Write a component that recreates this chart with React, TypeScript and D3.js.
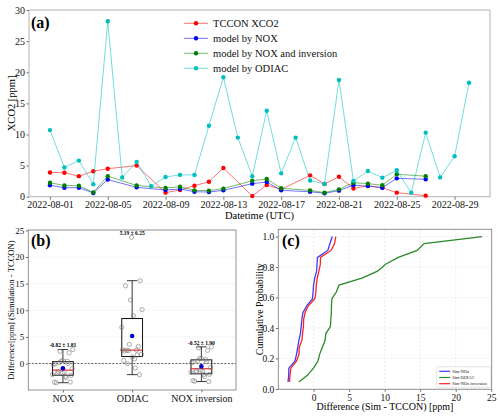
import { useEffect, useRef } from 'react';
import * as d3 from 'd3';

const dates = [
  '2022-08-01', '2022-08-02', '2022-08-03', '2022-08-04', '2022-08-05', '2022-08-06',
  '2022-08-07', '2022-08-08', '2022-08-09', '2022-08-10', '2022-08-11', '2022-08-12',
  '2022-08-13', '2022-08-14', '2022-08-15', '2022-08-16', '2022-08-17', '2022-08-18',
  '2022-08-19', '2022-08-20', '2022-08-21', '2022-08-22', '2022-08-23', '2022-08-24',
  '2022-08-25', '2022-08-26', '2022-08-27', '2022-08-28', '2022-08-29', '2022-08-30',
];
const tcconXco2 = [3.9, 3.85, 3.3, 4.08, 4.5, null, 5.0, null, 0.65, 1.08, 1.77, 2.4, 4.62, null, 0.1, 1.88, 1.18, null, 3.43, 2.05, 3.2, 1.3, 1.77, 1.45, 0.65, null, 0.17, null, null, null];
const modelNox = [1.83, 1.45, 1.45, 0.6, 2.75, null, 1.5, null, 1.08, 1.24, 0.8, 0.75, 1.02, null, 2.1, 2.36, 1.02, null, 0.8, 0.55, 0.97, 1.85, 1.7, 1.45, 2.95, null, 2.8, null, null, null];
const modelNoxInversion = [2.25, 1.8, 1.75, 0.7, 3.3, null, 1.8, null, 1.4, 1.6, 1.02, 0.97, 1.3, null, 2.57, 2.85, 1.35, null, 1.02, 0.65, 1.18, 2.25, 2.1, 1.83, 3.6, null, 3.3, null, null, null];
const modelOdiac = [10.7, 4.7, 5.8, 2.0, 28.2, 3.1, 5.6, 1.7, 3.17, 3.5, 3.5, 11.4, 19.2, 9.5, 3.3, 13.8, 3.75, 9.5, 2.6, 2.04, 18.75, 2.52, 4.13, 3.06, 4.24, 0.65, 10.3, 3.1, 6.5, 18.3];

const seriesNames = ['TCCON XCO2', 'model by NOX', 'model by NOX and inversion', 'model by ODIAC'];
const seriesColors = ['#ff0000', '#0000ff', '#008000', '#00bfbf'];
const yTicksA = [0, 5, 10, 15, 20, 25, 30];

// panel (b)
const boxCategories = ['NOX', 'ODIAC', 'NOX inversion'];
const boxStatLabels = ['-0.82 ± 1.81', '5.19 ± 6.25', '-0.52 ± 1.90'];
const yTicksB = [0, 5, 10, 15, 20, 25];

// panel (c)
const cdfNames = ['Sim-NOx', 'Sim-ODIAC', 'Sim-NOx inversion'];
const cdfColors = ['#3c3cff', '#2a8a2a', '#ff2020'];
const xTicksC = [0, 5, 10, 15, 20, 25];
const yTicksC = [0, 0.2, 0.4, 0.6, 0.8, 1.0];

const FONT = '"Liberation Serif", "Times New Roman", serif';

function differences(model: (number | null)[]) {
  const out: number[] = [];
  dates.forEach((_, i) => {
    const obs = tcconXco2[i];
    const sim = model[i];
    if (obs != null && sim != null) out.push(sim - obs);
  });
  return out;
}

function padded(lo: number, hi: number) {
  const m = (hi - lo) * 0.05;
  return [lo - m, hi + m];
}

export default function App() {
  const svgRef = useRef<SVGSVGElement>(null);

  useEffect(() => {
    if (!svgRef.current) return;
    const svg = d3.select(svgRef.current);
    svg.selectAll('*').remove();
    svg.append('rect').attr('width', 500).attr('height', 417).attr('fill', 'white');

    // ---------- (a) time series ----------
    const pa = { left: 29, right: 490, top: 10, bottom: 196.7 };
    const parse = d3.utcParse('%Y-%m-%d');
    const times = dates.map(d => parse(d) as Date);
    const span = +times[times.length - 1] - +times[0];
    const xA = d3.scaleUtc()
      .domain([new Date(+times[0] - span * 0.05), new Date(+times[times.length - 1] + span * 0.05)])
      .range([pa.left, pa.right]);
    const yA = d3.scaleLinear().domain([0, 30]).range([pa.bottom, pa.top]);

    const gA = svg.append('g');
    const xAxisA = gA.append('g')
      .attr('transform', `translate(0,${pa.bottom})`)
      .call(d3.axisBottom(xA).ticks(d3.utcDay.every(4)).tickFormat(d3.utcFormat('%Y-%m-%d') as any).tickSize(3).tickPadding(1.5));
    const yAxisA = gA.append('g')
      .attr('transform', `translate(${pa.left},0)`)
      .call(d3.axisLeft(yA).tickValues(yTicksA).tickSize(2.5).tickPadding(1.5));
    [xAxisA, yAxisA].forEach(ax => {
      ax.select('.domain').remove();
      ax.selectAll('text').style('font-family', FONT).style('font-size', '10px').attr('fill', '#111');
      ax.selectAll('line').attr('stroke', '#333').attr('stroke-width', 0.7);
    });
    gA.append('rect')
      .attr('x', pa.left).attr('y', pa.top)
      .attr('width', pa.right - pa.left).attr('height', pa.bottom - pa.top)
      .attr('fill', 'none').attr('stroke', '#aaaaaa').attr('stroke-width', 0.9);

    const allSeries = [tcconXco2, modelNox, modelNoxInversion, modelOdiac];
    allSeries.forEach((vals, s) => {
      const pts = vals
        .map((v, i) => ({ t: times[i], v }))
        .filter(p => p.v != null) as { t: Date; v: number }[];
      const line = d3.line<{ t: Date; v: number }>().x(p => xA(p.t)).y(p => yA(p.v));
      gA.append('path')
        .attr('d', line(pts))
        .attr('fill', 'none')
        .attr('stroke', seriesColors[s])
        .attr('stroke-opacity', 0.55)
        .attr('stroke-width', 1);
      gA.selectAll(null)
        .data(pts)
        .enter().append('circle')
        .attr('cx', p => xA(p.t))
        .attr('cy', p => yA(p.v))
        .attr('r', 2.2)
        .attr('fill', seriesColors[s]);
    });

    // legend
    const legA = gA.append('g').attr('transform', 'translate(184,23.3)');
    seriesNames.forEach((name, s) => {
      const row = legA.append('g').attr('transform', `translate(0,${s * 15})`);
      row.append('line').attr('x1', 0).attr('x2', 24)
        .attr('stroke', seriesColors[s]).attr('stroke-opacity', 0.55).attr('stroke-width', 1);
      row.append('circle').attr('cx', 12).attr('r', 2.2).attr('fill', seriesColors[s]);
      row.append('text').attr('x', 29).attr('y', 3.6)
        .style('font-family', FONT).style('font-size', '10.5px').attr('fill', '#111').text(name);
    });

    gA.append('text').attr('x', 31).attr('y', 27.5)
      .style('font-family', FONT).style('font-size', '16px').style('font-weight', 'bold').text('(a)');
    gA.append('text').attr('x', (pa.left + pa.right) / 2).attr('y', 219).attr('text-anchor', 'middle')
      .style('font-family', FONT).style('font-size', '10.5px').text('Datetime (UTC)');
    gA.append('text').attr('transform', `translate(14.5,${(pa.top + pa.bottom) / 2}) rotate(-90)`)
      .attr('text-anchor', 'middle')
      .style('font-family', FONT).style('font-size', '10.5px').text('XCO2 [ppm]');

    // ---------- (b) box plots ----------
    const diffSets = [differences(modelNox), differences(modelOdiac), differences(modelNoxInversion)];
    const allDiffs = diffSets.flat();
    const [dLo, dHi] = padded(d3.min(allDiffs) as number, d3.max(allDiffs) as number);

    const pb = { left: 28.3, right: 236, top: 230, bottom: 390 };
    const xB = d3.scaleLinear().domain([0.5, 3.5]).range([pb.left, pb.right]);
    const yB = d3.scaleLinear().domain([dLo, dHi]).range([pb.bottom, pb.top]);
    const gB = svg.append('g');

    // grid
    gB.selectAll(null).data(yTicksB.filter(v => v >= dLo && v <= dHi)).enter().append('line')
      .attr('x1', pb.left).attr('x2', pb.right)
      .attr('y1', d => yB(d)).attr('y2', d => yB(d))
      .attr('stroke', '#dddddd').attr('stroke-width', 0.6).attr('stroke-dasharray', '2,2');
    gB.append('line')
      .attr('x1', pb.left).attr('x2', pb.right).attr('y1', yB(0)).attr('y2', yB(0))
      .attr('stroke', '#222').attr('stroke-width', 0.7).attr('stroke-dasharray', '2,1.5');

    const yAxisB = gB.append('g').attr('transform', `translate(${pb.left},0)`)
      .call(d3.axisLeft(yB).tickValues(yTicksB.filter(v => v >= dLo && v <= dHi)).tickSize(2.5).tickPadding(1.5));
    const xAxisB = gB.append('g').attr('transform', `translate(0,${pb.bottom})`)
      .call(d3.axisBottom(xB).tickValues([1, 2, 3]).tickFormat((d: any) => boxCategories[d - 1]).tickSize(2.5).tickPadding(2));
    [xAxisB, yAxisB].forEach(ax => {
      ax.select('.domain').remove();
      ax.selectAll('line').attr('stroke', '#333').attr('stroke-width', 0.7);
      ax.selectAll('text').style('font-family', FONT).attr('fill', '#111');
    });
    yAxisB.selectAll('text').style('font-size', '9px');
    xAxisB.selectAll('text').style('font-size', '10px');

    const boxW = 0.3;
    diffSets.forEach((vals, k) => {
      const pos = k + 1;
      const sorted = vals.slice().sort(d3.ascending);
      const q1 = d3.quantile(sorted, 0.25) as number;
      const med = d3.quantile(sorted, 0.5) as number;
      const q3 = d3.quantile(sorted, 0.75) as number;
      const iqr = q3 - q1;
      const wLo = d3.min(sorted.filter(v => v >= q1 - 1.5 * iqr)) as number;
      const wHi = d3.max(sorted.filter(v => v <= q3 + 1.5 * iqr)) as number;
      const mean = d3.mean(vals) as number;

      const g = gB.append('g');
      g.append('line').attr('x1', xB(pos)).attr('x2', xB(pos)).attr('y1', yB(q3)).attr('y2', yB(wHi))
        .attr('stroke', '#222').attr('stroke-width', 0.9);
      g.append('line').attr('x1', xB(pos)).attr('x2', xB(pos)).attr('y1', yB(q1)).attr('y2', yB(wLo))
        .attr('stroke', '#222').attr('stroke-width', 0.9);
      [wLo, wHi].forEach(w => {
        g.append('line').attr('x1', xB(pos - boxW / 4)).attr('x2', xB(pos + boxW / 4))
          .attr('y1', yB(w)).attr('y2', yB(w)).attr('stroke', '#222').attr('stroke-width', 0.9);
      });
      g.append('rect')
        .attr('x', xB(pos - boxW / 2)).attr('y', yB(q3))
        .attr('width', xB(pos + boxW / 2) - xB(pos - boxW / 2)).attr('height', yB(q1) - yB(q3))
        .attr('fill', 'none').attr('stroke', '#111').attr('stroke-width', 1);
      g.append('line').attr('x1', xB(pos - boxW / 2)).attr('x2', xB(pos + boxW / 2))
        .attr('y1', yB(med)).attr('y2', yB(med)).attr('stroke', '#e8302a').attr('stroke-width', 1.2);

      // jittered points (deterministic spread)
      g.selectAll(null).data(vals).enter().append('circle')
        .attr('cx', (_, i) => xB(pos + (((i * 0.618034) % 1) - 0.5) * 0.3))
        .attr('cy', d => yB(d))
        .attr('r', 2.1)
        .attr('fill', 'none').attr('stroke', '#777').attr('stroke-width', 0.6);

      g.append('circle').attr('cx', xB(pos)).attr('cy', yB(mean)).attr('r', 2.3).attr('fill', '#0000cc');

      g.append('text').attr('x', xB(pos)).attr('y', yB(d3.max(vals) as number) - 2.2)
        .attr('text-anchor', 'middle')
        .style('font-family', FONT).style('font-size', '5.5px').style('font-weight', 'bold')
        .text(boxStatLabels[k]);
    });

    gB.append('rect')
      .attr('x', pb.left).attr('y', pb.top)
      .attr('width', pb.right - pb.left).attr('height', pb.bottom - pb.top)
      .attr('fill', 'none').attr('stroke', '#888').attr('stroke-width', 0.9);
    gB.append('text').attr('x', 31).attr('y', 246)
      .style('font-family', FONT).style('font-size', '16px').style('font-weight', 'bold').text('(b)');
    gB.append('text').attr('transform', `translate(14,${(pb.top + pb.bottom) / 2}) rotate(-90)`)
      .attr('text-anchor', 'middle')
      .style('font-family', FONT).style('font-size', '8.6px').text('Difference[ppm] (Simulation - TCCON)');

    // ---------- (c) cumulative distributions ----------
    const pc = { left: 278.3, right: 491.7, top: 229.3, bottom: 389.3 };
    const n = diffSets[0].length;
    const xC = d3.scaleLinear().domain([dLo, dHi]).range([pc.left, pc.right]);
    const yC = d3.scaleLinear().domain(padded(1 / n, 1)).range([pc.bottom, pc.top]);
    const gC = svg.append('g');

    gC.selectAll(null).data(xTicksC).enter().append('line')
      .attr('x1', d => xC(d)).attr('x2', d => xC(d)).attr('y1', pc.top).attr('y2', pc.bottom)
      .attr('stroke', '#d4d4d4').attr('stroke-width', 0.5).attr('stroke-dasharray', '2,2');
    gC.selectAll(null).data(yTicksC).enter().append('line')
      .attr('x1', pc.left).attr('x2', pc.right).attr('y1', d => yC(d)).attr('y2', d => yC(d))
      .attr('stroke', '#d4d4d4').attr('stroke-width', 0.5).attr('stroke-dasharray', '2,2');

    const xAxisC = gC.append('g').attr('transform', `translate(0,${pc.bottom})`)
      .call(d3.axisBottom(xC).tickValues(xTicksC).tickSize(2.5).tickPadding(2));
    const yAxisC = gC.append('g').attr('transform', `translate(${pc.left},0)`)
      .call(d3.axisLeft(yC).tickValues(yTicksC).tickFormat(d3.format('.1f') as any).tickSize(2.5).tickPadding(1.5));
    [xAxisC, yAxisC].forEach(ax => {
      ax.select('.domain').remove();
      ax.selectAll('line').attr('stroke', '#333').attr('stroke-width', 0.7);
      ax.selectAll('text').style('font-family', FONT).style('font-size', '9.5px').attr('fill', '#111');
    });

    diffSets.forEach((vals, k) => {
      const sorted = vals.slice().sort(d3.ascending);
      const line = d3.line<number>().x(d => xC(d)).y((_, i) => yC((i + 1) / sorted.length));
      gC.append('path').attr('d', line(sorted))
        .attr('fill', 'none').attr('stroke', cdfColors[k]).attr('stroke-width', 1.3);
    });

    const legC = gC.append('g').attr('transform', 'translate(436.7,366.7)');
    legC.append('rect').attr('width', 54).attr('height', 20.6).attr('rx', 1.5)
      .attr('fill', 'white').attr('fill-opacity', 0.85).attr('stroke', '#cccccc').attr('stroke-width', 0.5);
    cdfNames.forEach((name, k) => {
      const yy = 4.6 + k * 6.2;
      legC.append('line').attr('x1', 2.5).attr('x2', 13.5).attr('y1', yy).attr('y2', yy)
        .attr('stroke', cdfColors[k]).attr('stroke-width', 1.2);
      legC.append('text').attr('x', 15.5).attr('y', yy + 1.5)
        .style('font-family', FONT).style('font-size', '4.4px').attr('fill', '#111').text(name);
    });

    gC.append('rect')
      .attr('x', pc.left).attr('y', pc.top)
      .attr('width', pc.right - pc.left).attr('height', pc.bottom - pc.top)
      .attr('fill', 'none').attr('stroke', '#888').attr('stroke-width', 0.9);
    gC.append('text').attr('x', 282).attr('y', 246)
      .style('font-family', FONT).style('font-size', '16px').style('font-weight', 'bold').text('(c)');
    gC.append('text').attr('x', (pc.left + pc.right) / 2).attr('y', 410).attr('text-anchor', 'middle')
      .style('font-family', FONT).style('font-size', '10px').text('Difference (Sim - TCCON) [ppm]');
    gC.append('text').attr('transform', `translate(263,${(pc.top + pc.bottom) / 2}) rotate(-90)`)
      .attr('text-anchor', 'middle')
      .style('font-family', FONT).style('font-size', '9.8px').text('Cumulative Probability');
  }, []);

  return (
    <svg
      ref={svgRef}
      width={500}
      height={417}
      style={{ position: 'absolute', left: 0, top: 0 }}
    />
  );
}
